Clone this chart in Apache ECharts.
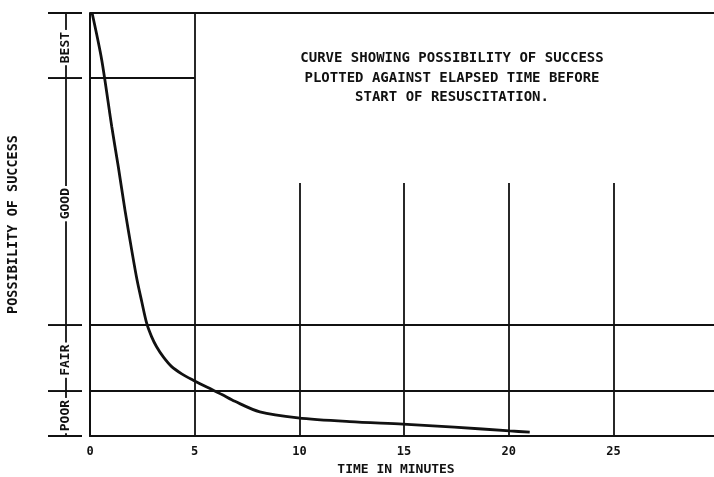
<!DOCTYPE html>
<html>
<head>
<meta charset="utf-8">
<script src="https://cdn.jsdelivr.net/npm/echarts@6/dist/echarts.min.js"></script>
<style>html,body{margin:0;padding:0;background:#fff}#c{width:714px;height:477px}</style>
</head>
<body>
<div id="c"></div>
<script>
// ---- data ----
const timeTicks = [0, 5, 10, 15, 20, 25];
const ratingBounds = [0, 10.6, 26.2, 84.6, 100];
const ratingLabels = ['POOR', 'FAIR', 'GOOD', 'BEST'];
const elapsedMinutes = [0.1, 0.56, 1.04, 1.35, 1.67, 1.99, 2.25, 2.47, 2.71, 2.94, 3.18, 3.5, 3.9, 4.38, 4.93, 5.6, 6.3, 6.92, 8.11, 9.93, 12.4, 14.94, 17.4, 20.05, 21.0];
const successLevel  = [100, 88.9, 73.1, 63.7, 53.4, 44.0, 36.8, 31.8, 26.6, 23.5, 21.1, 18.7, 16.4, 14.7, 13.2, 11.5, 9.8, 8.2, 5.7, 4.3, 3.4, 2.8, 2.1, 1.2, 0.9];
const annotationLines = ['CURVE SHOWING POSSIBILITY OF SUCCESS', 'PLOTTED AGAINST ELAPSED TIME BEFORE', 'START OF RESUSCITATION.'];
const xTitle = 'TIME IN MINUTES';
const yTitle = 'POSSIBILITY OF SUCCESS';
const xMax = 29.8;
// grid rules: horizontal [y, xFrom, xTo], vertical [x, yFrom, yTo]
const hRules = [[100, 0, xMax], [84.6, 0, 5], [26.2, 0, xMax], [10.6, 0, xMax]];
const vRules = [[5, 0, 100], [10, 0, 59.8], [15, 0, 59.8], [20, 0, 59.8], [25, 0, 59.8]];

// ---- chart ----
const FONT = '"DejaVu Sans Mono", monospace';
const chart = echarts.init(document.getElementById('c'), null, {renderer: 'canvas'});
const ruleData = [];
hRules.forEach(r => ruleData.push([{coord: [r[1], r[0]]}, {coord: [r[2], r[0]]}]));
vRules.forEach(r => ruleData.push([{coord: [r[0], r[1]]}, {coord: [r[0], r[2]]}]));

const bandData = ratingLabels.map((name, i) => ({name: name, value: [0, ratingBounds[i], ratingBounds[i + 1]]}));

chart.setOption({
  animation: false,
  backgroundColor: '#ffffff',
  grid: {left: 90, right: 0, top: 13, bottom: 41, containLabel: false, outerBoundsMode: 'none'},
  xAxis: {
    type: 'value', min: 0, max: xMax, interval: 5,
    name: xTitle, nameLocation: 'middle', nameGap: 27,
    nameTextStyle: {fontFamily: FONT, fontWeight: 'bold', fontSize: 13, color: '#111', padding: [0, 12, 0, 0]},
    axisLine: {show: true, lineStyle: {color: '#111', width: 2}},
    axisTick: {show: false},
    splitLine: {show: false},
    axisLabel: {
      fontFamily: FONT, fontWeight: 'bold', fontSize: 12, color: '#111', margin: 10,
      customValues: timeTicks,
      formatter: v => String(v)
    }
  },
  yAxis: {
    type: 'value', min: 0, max: 100,
    name: yTitle, nameLocation: 'middle', nameRotate: 90, nameGap: 70,
    nameTextStyle: {fontFamily: FONT, fontWeight: 'bold', fontSize: 13.5, color: '#111'},
    axisLine: {show: true, lineStyle: {color: '#111', width: 2}},
    axisTick: {show: false},
    axisLabel: {show: false},
    splitLine: {show: false}
  },
  graphic: [{
    type: 'text', x: 452, y: 49,
    style: {
      text: annotationLines.join('\n'),
      align: 'center', verticalAlign: 'top', lineHeight: 19.5,
      font: 'bold 14px ' + FONT, fill: '#111'
    }
  }],
  series: [
    {
      type: 'line', name: 'success',
      data: elapsedMinutes.map((t, i) => [t, successLevel[i]]),
      showSymbol: false, symbol: 'none',
      smooth: 0.3,
      lineStyle: {color: '#111', width: 2.8},
      z: 5,
      markLine: {
        silent: true, symbol: ['none', 'none'], animation: false,
        label: {show: false},
        lineStyle: {color: '#111', width: 1.8, type: 'solid'},
        data: ruleData
      }
    },
    {
      type: 'custom', name: 'ratingScale', silent: true, clip: false,
      data: bandData,
      renderItem: function (params, api) {
        const lo = api.value(1), hi = api.value(2);
        const pLo = api.coord([0, lo]);
        const pHi = api.coord([0, hi]);
        const ax = pLo[0] - 24;
        const midY = (pLo[1] + pHi[1]) / 2 + 2;
        const ls = {stroke: '#111', lineWidth: 1.8};
        return {
          type: 'group',
          children: [
            {type: 'line', shape: {x1: ax, y1: pLo[1], x2: ax, y2: pHi[1]}, style: ls},
            {type: 'line', shape: {x1: pLo[0] - 42, y1: pLo[1], x2: pLo[0] - 8, y2: pLo[1]}, style: ls},
            {type: 'line', shape: {x1: pHi[0] - 42, y1: pHi[1], x2: pHi[0] - 8, y2: pHi[1]}, style: ls},
            {
              type: 'text', x: ax, y: midY, rotation: Math.PI / 2, z2: 10,
              style: {
                text: ratingLabels[params.dataIndex],
                align: 'center', verticalAlign: 'middle',
                font: 'bold 13px ' + FONT, fill: '#111',
                backgroundColor: '#fff', padding: [1, 2]
              }
            }
          ]
        };
      }
    }
  ]
});
</script>
</body>
</html>
